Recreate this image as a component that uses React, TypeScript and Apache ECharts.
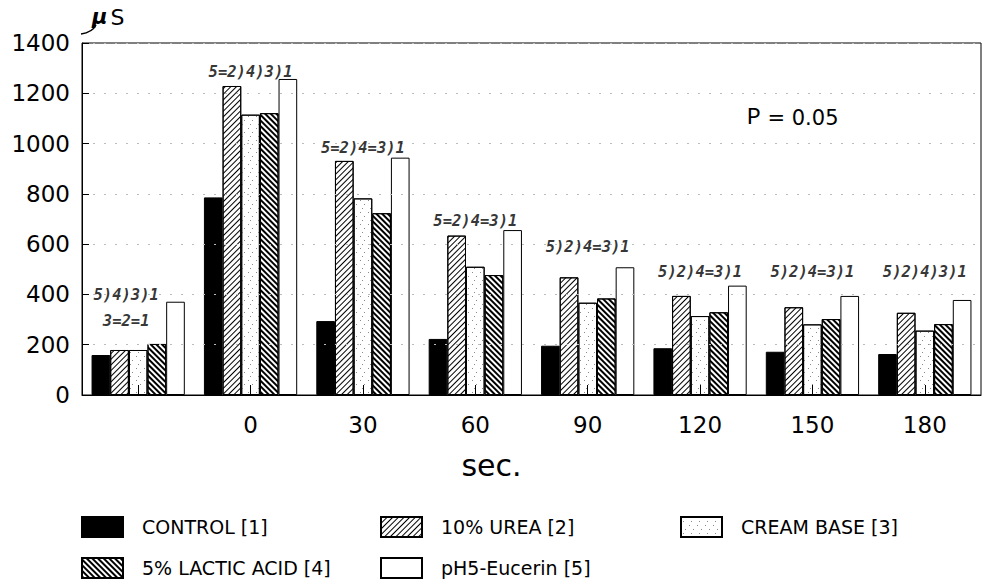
import React, { useEffect, useRef } from "react";
import * as echarts from "echarts";

const categories = ["", "0", "30", "60", "90", "120", "150", "180"];
const control = [159, 786, 294, 223, 196, 186, 172, 163];
const urea = [179, 1229, 931, 634, 468, 394, 349, 327];
const cream = [179, 1115, 782, 510, 367, 314, 281, 256];
const lactic = [203, 1121, 723, 477, 384, 329, 302, 282];
const eucerin = [371, 1257, 944, 656, 508, 435, 394, 378];
const annotations = [
  "5)4)3)1\n3=2=1",
  "5=2)4)3)1",
  "5=2)4=3)1",
  "5=2)4=3)1",
  "5)2)4=3)1",
  "5)2)4=3)1",
  "5)2)4=3)1",
  "5)2)4)3)1",
];
const annotationLevels = [346, 1285, 982, 692, 589, 489, 489, 489];
const seriesNames = [
  "CONTROL [1]",
  "10% UREA [2]",
  "CREAM BASE [3]",
  "5% LACTIC ACID [4]",
  "pH5-Eucerin [5]",
];
const yTicks = { min: 0, max: 1400, interval: 200 };

const SANS = "DejaVu Sans";

export default function App() {
  const ref = useRef<HTMLDivElement>(null);
  useEffect(() => {
    if (!ref.current) return;
    const chart = echarts.init(ref.current, null, { renderer: "svg" });
    const border = { borderColor: "#000", borderWidth: 1 };
    const styles: any[] = [
      { color: "#000", ...border },
      {
        color: "#fff",
        ...border,
        decal: {
          symbol: "rect",
          symbolSize: 1,
          color: "#000",
          dashArrayX: [1, 0],
          dashArrayY: [1, 2.2],
          rotation: -Math.PI / 4,
        },
      },
      {
        color: "#fff",
        ...border,
        decal: {
          symbol: "rect",
          symbolSize: 1,
          color: "#8a8a8a",
          dashArrayX: [[1, 7], [0, 4, 1, 3], [0, 2, 1, 5]],
          dashArrayY: [1, 3],
          rotation: 0,
        },
      },
      {
        color: "#fff",
        ...border,
        decal: {
          symbol: "rect",
          symbolSize: 1,
          color: "#000",
          dashArrayX: [1, 0],
          dashArrayY: [1.6, 1.1],
          rotation: Math.PI / 4,
        },
      },
      { color: "#fff", ...border },
    ];
    const dataSets = [control, urea, cream, lactic, eucerin];
    const legendPos = [
      [81, 516],
      [380, 516],
      [680, 516],
      [81, 557],
      [380, 557],
    ];
    const option: any = {
      animation: false,
      backgroundColor: "#fff",
      legend: seriesNames.map((n, i) => ({
        data: [n],
        left: legendPos[i][0],
        top: legendPos[i][1],
        padding: 0,
        icon: "rect",
        itemWidth: 41,
        itemHeight: 20,
        selectedMode: false,
        textStyle: {
          fontFamily: SANS,
          fontSize: 19,
          color: "#000",
          padding: [0, 0, 0, 14],
        },
      })),
      grid: {
        left: 82,
        right: 2,
        top: 43,
        bottom: 190,
        show: true,
        borderColor: "#000",
        borderWidth: 1,
      },
      xAxis: {
        type: "category",
        data: categories,
        z: 5,
        axisLine: { lineStyle: { color: "#000", width: 1 } },
        axisTick: { show: true, inside: true, alignWithLabel: true, length: 10, lineStyle: { color: "#000" } },
        axisLabel: { fontFamily: SANS, fontSize: 23, color: "#000", margin: 18 },
      },
      yAxis: {
        type: "value",
        min: yTicks.min,
        max: yTicks.max,
        interval: yTicks.interval,
        z: 5,
        axisLine: { show: true, lineStyle: { color: "#000", width: 1 } },
        axisTick: { show: true, inside: true, length: 7, lineStyle: { color: "#000" } },
        axisLabel: {
          fontFamily: SANS,
          fontSize: 23,
          color: "#000",
          margin: 12,
          formatter: (v: number) => String(v),
        },
        splitLine: { show: true, lineStyle: { color: "#bbb", type: [2, 9], width: 1 } },
      },
      series: [
        ...seriesNames.map((n, i) => ({
          name: n,
          type: "bar",
          data: dataSets[i],
          barGap: "0%",
          barCategoryGap: "17%",
          itemStyle: styles[i],
          emphasis: { disabled: true },
        })),
        {
          type: "scatter",
          silent: true,
          symbol: "circle",
          symbolSize: 1,
          itemStyle: { color: "rgba(0,0,0,0)" },
          data: annotationLevels.map((v, i) =>
            i === 0 ? { value: v, label: { offset: [-12, 0] } } : { value: v }
          ),
          label: {
            show: true,
            position: "inside",
            formatter: (p: any) => annotations[p.dataIndex],
            fontFamily: "DejaVu Sans Mono",
            fontStyle: "italic",
            fontWeight: "bold",
            fontSize: 15.5,
            lineHeight: 26,
            color: "#000",
          },
          z: 6,
        },
      ],
      graphic: [
        {
          type: "bezierCurve",
          shape: { x1: 81, y1: 34, x2: 96, y2: 25, cpx1: 88, cpy1: 33, cpx2: 93, cpy2: 31 },
          style: { stroke: "#000", lineWidth: 1.5, fill: null },
        },
        {
          type: "text",
          left: 92,
          top: 6,
          style: {
            text: "{m|μ}{s|S}",
            rich: {
              m: { fontFamily: SANS, fontSize: 21, fontStyle: "italic", fontWeight: "bold", fill: "#000" },
              s: { fontFamily: SANS, fontSize: 22, fill: "#000", padding: [0, 0, 0, 3] },
            },
          },
        },
        {
          type: "text",
          left: 747,
          top: 106,
          style: {
            text: "{p|P}{r| = 0.05}",
            rich: {
              p: { fontFamily: "Liberation Mono", fontSize: 23, fill: "#000" },
              r: { fontFamily: SANS, fontSize: 21, fill: "#000" },
            },
          },
        },
        {
          type: "text",
          left: "center",
          top: 450,
          x: 48,
          style: { text: "sec.", fontFamily: SANS, fontSize: 30, fill: "#000" },
        },
      ],
    };
    chart.setOption(option);
    return () => chart.dispose();
  }, []);
  return (
    <div
      ref={ref}
      style={{ position: "fixed", left: 0, top: 0, width: 983, height: 585, background: "#fff" }}
    />
  );
}
